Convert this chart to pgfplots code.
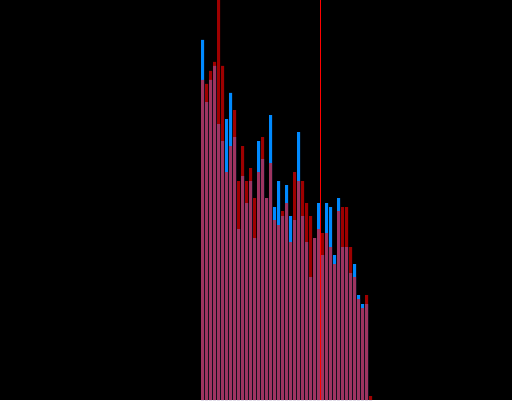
\documentclass[border=0pt]{standalone}
\usepackage{pgfplots}
\usepackage{pgfplotstable}
\pgfplotsset{compat=1.18}

\definecolor{histblue}{RGB}{0,138,255}
\definecolor{histred}{RGB}{255,0,0}

% bin index, first sample (blue), second sample (red)
\pgfplotstableread{
bin blue red
0 360 320
1 298 316
2 320 329
3 334 338
4 276 430
5 259 334
6 281 228
7 307 254
8 263 290
9 171 219
10 224 254
11 197 219
12 219 232
13 162 202
14 259 228
15 241 263
16 202 202
17 285 237
18 193 180
19 219 175
20 184 189
21 215 197
22 184 158
23 180 228
24 268 219
25 184 219
26 158 197
27 123 184
28 162 162
29 197 171
30 145 167
31 197 167
32 193 153
33 145 136
34 202 189
35 153 193
36 153 193
37 127 153
38 136 123
39 105 101
40 96 92
41 96 105
42 0 4
}\histdata

\begin{document}
\begin{tikzpicture}
\fill[black] (0,0) rectangle (512pt,400pt);
\begin{axis}[
  at={(0,0)}, anchor=south west,
  width=512pt, height=400pt, scale only axis,
  hide axis,
  xmin=-50.625, xmax=77.375,
  ymin=0, ymax=400,
  clip=true,
  ybar, bar width=0.75,
]
\addplot[fill=histblue, draw=none, bar shift=0pt] table[x=bin, y=blue] {\histdata};
\addplot[fill=histred, fill opacity=0.62, draw=none, bar shift=0pt] table[x=bin, y=red] {\histdata};
\addplot[sharp plot, histred, line width=1.5pt, forget plot] coordinates {(29.5,0) (29.5,400)};
\end{axis}
\end{tikzpicture}
\end{document}
